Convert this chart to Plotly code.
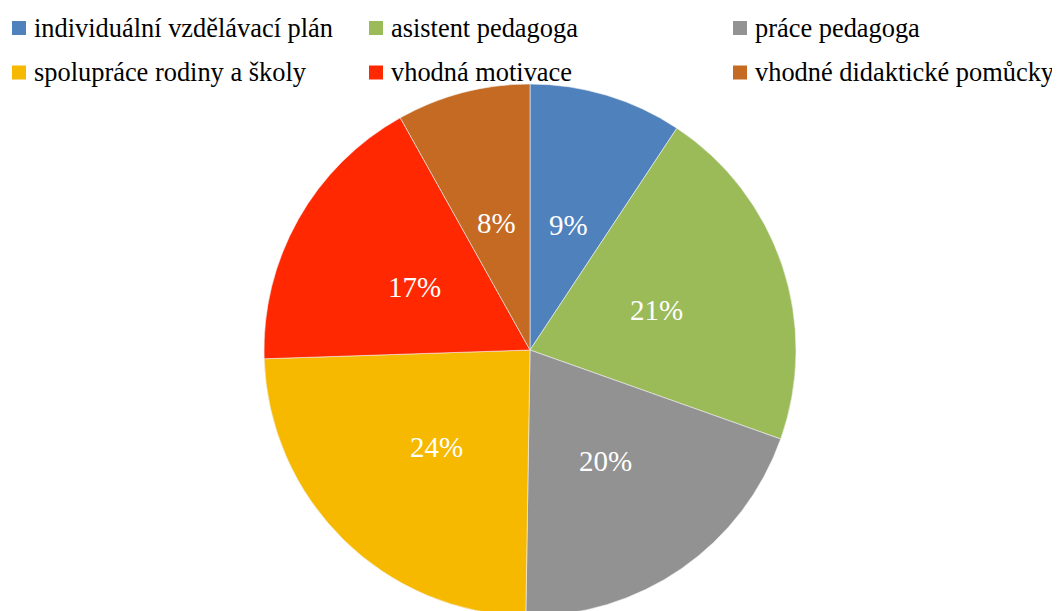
import math
import plotly.graph_objects as go

labels = ["individuální vzdělávací plán", "asistent pedagoga", "práce pedagoga",
          "spolupráce rodiny a školy", "vhodná motivace", "vhodné didaktické pomůcky"]
values = [9.3, 21.1, 19.8, 24.2, 17.4, 8.1]
colors = ["#4F81BD", "#9BBB59", "#929292", "#F6B900", "#FF2800", "#C46A22"]

W, H = 1060, 611
M_L, M_R, M_T, M_B = 0, 16, 76, 3
PW, PH = W - M_L - M_R, H - M_T - M_B
SERIF = "Liberation Serif, Times New Roman, serif"

fig = go.Figure(go.Pie(
    labels=labels,
    values=values,
    sort=False,
    direction="clockwise",
    rotation=0,
    marker=dict(colors=colors, line=dict(color="#F2F2F2", width=0.6)),
    textinfo="none",
    hoverinfo="label+percent",
    showlegend=False,
    domain=dict(x=[0, 1], y=[0, 1]),
))

# percentage labels at half radius along each slice's mid-angle
total = sum(values)
R = min(PW, PH) / 2
cum = 0.0
for v in values:
    mid = (cum + v / 2) / total * 2 * math.pi
    cum += v
    r_px = 0.5 * R
    fig.add_annotation(
        x=0.5 + r_px * math.sin(mid) / PW,
        y=0.5 + r_px * math.cos(mid) / PH,
        xref="paper", yref="paper",
        text=f"{round(v / total * 100)}%", showarrow=False,
        font=dict(family=SERIF, size=29, color="white"),
        xanchor="center", yanchor="middle", yshift=-2,
    )

# legend: 2 rows x 3 columns
col_sq = [4, 361, 725]
row_cy = [19.5, 64]
SQ = 14
GAP = 6
def px_x(p):
    return (p - M_L) / PW
def px_y(p):
    return (H - M_B - p) / PH

for i, (lab, col) in enumerate(zip(labels, colors)):
    c, r = i % 3, i // 3
    x0 = col_sq[c]
    cy = row_cy[r]
    fig.add_shape(
        type="rect", xref="paper", yref="paper",
        x0=px_x(x0), x1=px_x(x0 + SQ), y0=px_y(cy - SQ / 2 + 0.5), y1=px_y(cy + SQ / 2 + 0.5),
        fillcolor=col, line=dict(width=0),
    )
    fig.add_annotation(
        x=px_x(x0 + SQ + GAP), y=px_y(cy), xref="paper", yref="paper",
        text=lab, showarrow=False, xanchor="left", yanchor="middle",
        font=dict(family=SERIF, size=26.4, color="black"),
    )

fig.update_layout(
    width=W, height=H,
    margin=dict(l=M_L, r=M_R, t=M_T, b=M_B, autoexpand=False),
    paper_bgcolor="white",
    plot_bgcolor="white",
    font=dict(family=SERIF, color="black"),
    showlegend=False,
)

fig.write_html("out.html")
